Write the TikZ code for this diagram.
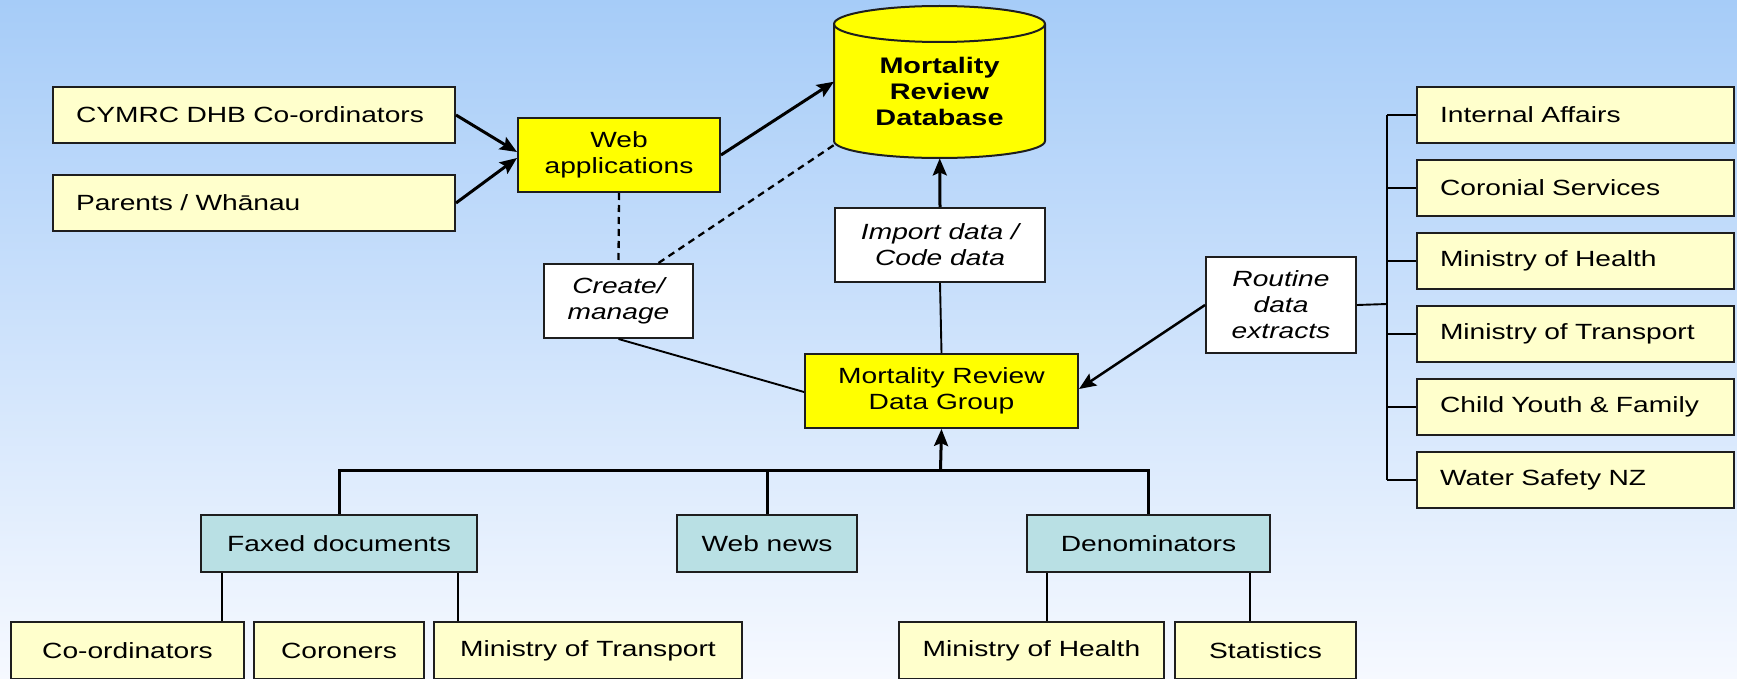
\documentclass[tikz,border=0pt]{standalone}
\usepackage{fontspec}
\setmainfont{Liberation Sans}[FakeStretch=1.28]
\usetikzlibrary{arrows.meta,calc}
\definecolor{lyel}{RGB}{255,255,204}
\definecolor{yel}{RGB}{255,255,0}
\definecolor{tealbox}{RGB}{185,224,228}
\definecolor{bgtop}{RGB}{166,204,248}
\definecolor{bgbot}{RGB}{246,249,255}
\definecolor{edge}{RGB}{30,30,30}
\begin{document}
\begin{tikzpicture}[x=1pt,y=-1pt,
  base/.style={draw=edge,line width=2pt,inner sep=0pt,anchor=north west,font=\fontsize{22}{26}\selectfont},
  lbox/.style={base,fill=lyel,inner xsep=23pt,align=left,minimum height=56pt},
  cbox/.style={base,align=center,minimum height=57pt},
  ybox/.style={base,fill=lyel,align=center,minimum height=57pt},
  tbox/.style={base,fill=tealbox,align=center,minimum height=57pt},
  hbox/.style={base,fill=yel,align=center},
  wbox/.style={base,fill=white,align=center,font=\fontsize{22}{26}\selectfont\itshape},
  arr/.style={draw=black,line width=3pt,-{Stealth[length=17pt,width=14pt,inset=3pt]}},
  thinline/.style={draw=black,line width=1.9pt},
  busline/.style={draw=black,line width=3pt},
  dashline/.style={draw=black,line width=2.3pt,dash pattern=on 7pt off 5pt}
]
% background
\path[use as bounding box,top color=bgtop,bottom color=bgbot] (0,0) rectangle (1737,679);

% left sources
\node[lbox,text width=356pt] (cymrc) at (52,86) {CYMRC DHB Co-ordinators};
\node[lbox,text width=356pt] (parents) at (52,174) {Parents / Wh\=anau};

% web applications
\node[hbox,minimum width=202pt,minimum height=74pt] (webapp) at (517,117) {Web\\applications};

% database cylinder
\node[inner sep=0pt,minimum width=211pt,minimum height=153pt,anchor=north west] (db) at (834,5) {};
\path[fill=yel,draw=edge,line width=2pt] (834,24) -- (834,141)
  arc[start angle=180,end angle=360,x radius=105.5pt,y radius=17pt] -- (1045,24)
  arc[start angle=0,end angle=180,x radius=105.5pt,y radius=18pt] -- cycle;
\draw[edge,line width=2pt] (834,24) arc[start angle=180,end angle=360,x radius=105.5pt,y radius=18pt];
\node[font=\fontsize{22.5}{26}\selectfont\bfseries,align=center,inner sep=0pt] (dbtext) at (939.5,91) {Mortality\\Review\\Database};

% white label boxes
\node[wbox,minimum width=149pt,minimum height=74pt] (create) at (543,263) {Create/\\manage};
\node[wbox,minimum width=210pt,minimum height=74pt] (import) at (834,207) {Import data /\\Code data};
\node[wbox,minimum width=150pt,minimum height=96pt] (routine) at (1205,256) {Routine\\data\\extracts};

% data group
\node[hbox,minimum width=273pt,minimum height=74pt] (mrdg) at (804,353) {Mortality Review\\Data Group};

% right sources
\node[lbox,text width=271pt] (ia) at (1416,86) {Internal Affairs};
\node[lbox,text width=271pt] (cs) at (1416,159) {Coronial Services};
\node[lbox,text width=271pt] (mh) at (1416,232) {Ministry of Health};
\node[lbox,text width=271pt] (mt) at (1416,305) {Ministry of Transport};
\node[lbox,text width=271pt] (cy) at (1416,378) {Child Youth \& Family};
\node[lbox,text width=271pt] (ws) at (1416,451) {Water Safety NZ};

% middle teal boxes
\node[tbox,minimum width=276pt] (faxed) at (200,514) {Faxed documents};
\node[tbox,minimum width=180pt] (webnews) at (676,514) {Web news};
\node[tbox,minimum width=243pt] (denom) at (1026,514) {Denominators};

% bottom boxes
\node[ybox,minimum width=233pt] (cord) at (10,621) {Co-ordinators};
\node[ybox,minimum width=170pt] (coroners) at (253,621) {Coroners};
\node[ybox,minimum width=308pt] (mot) at (433,621) {Ministry of Transport};
\node[ybox,minimum width=265pt] (moh) at (898,621) {Ministry of Health};
\node[ybox,minimum width=181pt] (stats) at (1174,621) {Statistics};

% arrows into web applications and database
\draw[arr] (cymrc.east) -- ($(webapp.west)+(0,-3)$);
\draw[arr] (parents.east) -- ($(webapp.west)+(0,3)$);
\draw[arr] (webapp.east) -- (db.west);
\draw[arr] (import.north) -- (db.south);

% dashed links
\coordinate (dbdash) at (834,145);
\draw[dashline] (webapp.south) -- (create.north);
\draw[dashline] ($(create.north)+(40,0)$) -- (dbdash);

% links to data group
\draw[thinline] (create.south) -- ($(mrdg.west)+(0,1)$);
\draw[thinline] (import.south) -- (mrdg.north);
\draw[arr,line width=2.5pt] (routine.west) -- ($(mrdg.east)+(0,-2)$);

% right bus
\coordinate (rbus) at (1387,304);
\draw[thinline] (routine.east) -- (rbus);
\draw[thinline] (ia.west -| rbus) -- (ws.west -| rbus);
\foreach \n in {ia,cs,mh,mt,cy,ws}{
  \draw[thinline] (\n.west -| rbus) -- (\n.west);
}

% bottom bus
\coordinate (busc) at (940.5,470);
\draw[arr] (busc) -- (mrdg.south);
\draw[busline] (faxed.north) -- (faxed.north |- busc) -- (denom.north |- busc) -- (denom.north);
\draw[busline] (webnews.north) -- (webnews.north |- busc);

% faxed / denominators drops
\coordinate (f1) at ($(faxed.south west)+(22,0)$);
\coordinate (f2) at ($(faxed.south east)+(-20,0)$);
\coordinate (d1) at ($(denom.south west)+(21,0)$);
\coordinate (d2) at ($(denom.south east)+(-21,0)$);
\draw[thinline] (f1) -- (f1 |- cord.north);
\draw[thinline] (f2) -- (f2 |- mot.north);
\draw[thinline] (d1) -- (d1 |- moh.north);
\draw[thinline] (d2) -- (d2 |- stats.north);
\end{tikzpicture}
\end{document}
